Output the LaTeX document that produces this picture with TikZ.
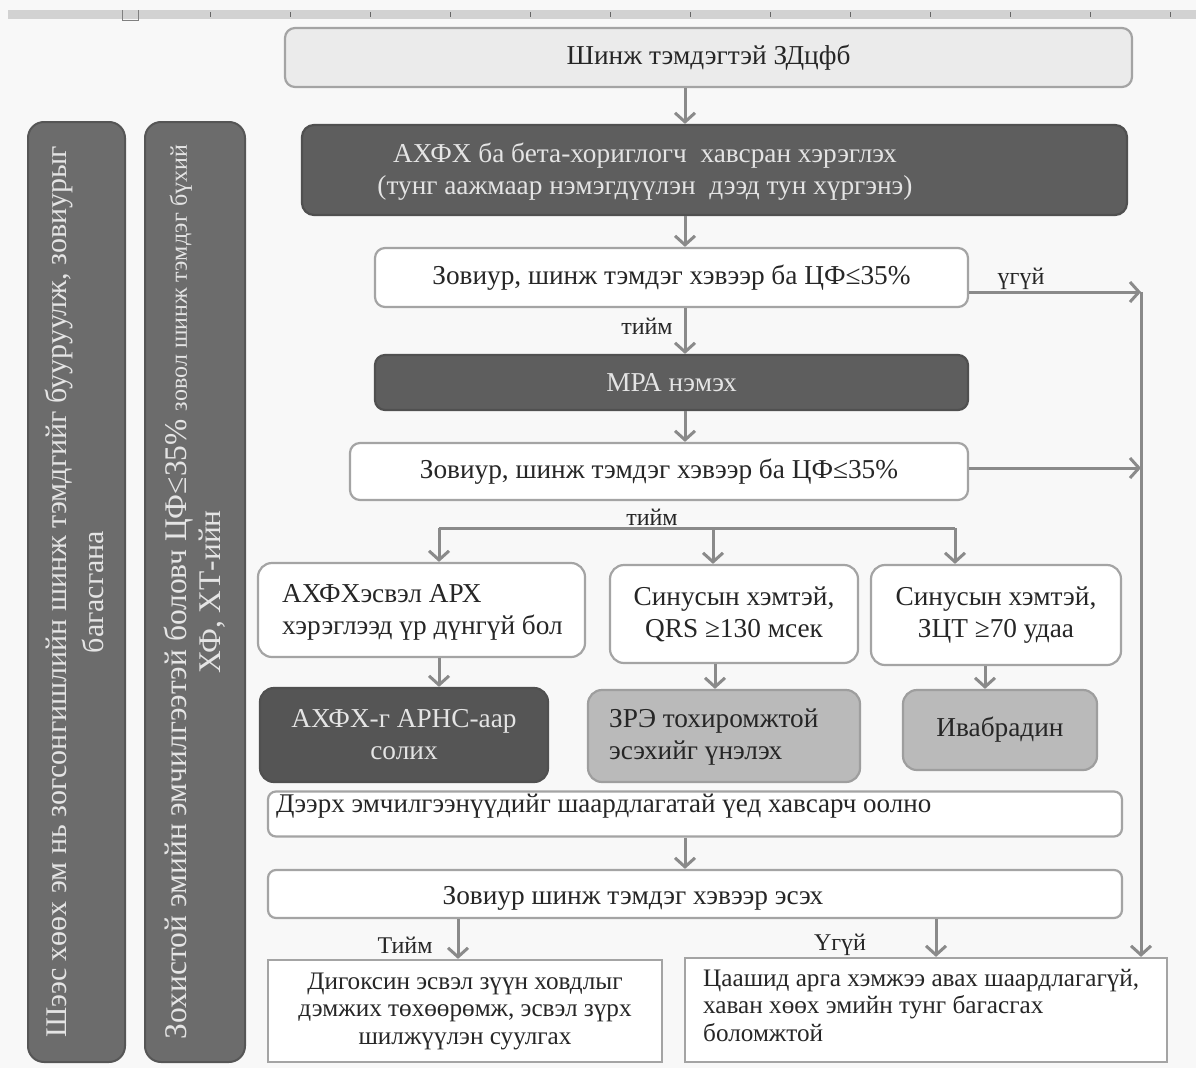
\documentclass[tikz,border=0pt]{standalone}
\usepackage{fontspec}
\setmainfont{Liberation Serif}
\usetikzlibrary{arrows.meta}
\definecolor{bg}{HTML}{F8F8F8}
\definecolor{edge}{HTML}{A4A4A4}
\definecolor{arrowc}{HTML}{8A8A8A}
\definecolor{darkf}{HTML}{5E5E5E}
\definecolor{darkerf}{HTML}{555555}
\definecolor{midf}{HTML}{BABABA}
\definecolor{lightf}{HTML}{EBEBEB}
\definecolor{barf}{HTML}{6C6C6C}
\definecolor{txtd}{HTML}{262626}
\definecolor{txtl}{HTML}{E4E4E4}
\definecolor{rulerc}{HTML}{D2D2D2}
\tikzset{
  box/.style={draw=edge, line width=2.2pt, rounded corners=10pt, inner sep=0pt, text=txtd},
  wbox/.style={box, fill=white},
  dbox/.style={box, fill=darkf, draw=darkf!85!black, text=txtl},
  mbox/.style={box, fill=midf, draw=midf!85!black},
  sbox/.style={box, fill=white, rounded corners=0pt},
  barbox/.style={draw=barf!80!black, line width=2pt, fill=barf, rounded corners=16pt, inner sep=0pt, text=txtl},
  txt/.style={inner sep=0pt, text=txtd},
  arr/.style={draw=arrowc, line width=3pt, -{Straight Barb[length=9pt,width=20pt,line width=3pt]}},
  ln/.style={draw=arrowc, line width=3pt},
  f27/.style={font=\fontsize{27.3}{32}\selectfont},
  f24/.style={font=\fontsize{24}{28}\selectfont},
  f25/.style={font=\fontsize{25.2}{27.5}\selectfont},
}
\begin{document}
\begin{tikzpicture}[x=1pt,y=-1pt]
\fill[bg] (0,0) rectangle (1196,1068);
\useasboundingbox (0,0) rectangle (1196,1068);
% ruler
\fill[rulerc] (8,10) rectangle (1196,19);
\draw[gray, line width=1pt] (122,10) -- (122,20) -- (138,20) -- (138,10);
\foreach \k in {210,290,...,1180} \draw[gray!80!black, line width=1pt] (\k,12) -- (\k,17);
% side bars
\node[barbox, minimum width=97, minimum height=940] (bar1) at (76.5,592) {};
\node[txt, text=txtl, rotate=90, align=center, font=\fontsize{30}{37}\selectfont] (bar1t) at (74,592)
  {Шээс хөөх эм нь зогсонгишлийн шинж тэмдгийг бууруулж, зовиурыг\\ багасгана};
\node[barbox, minimum width=100, minimum height=940] (bar2) at (195,592) {};
\node[txt, text=txtl, rotate=90, align=center, font=\fontsize{31.5}{34}\selectfont] (bar2t) at (195,592)
  {Зохистой эмийн эмчилгээтэй боловч ЦФ≤35\% {\fontsize{24}{26}\selectfont зовол шинж тэмдэг бүхий}\\ ХФ, ХТ-ийн};
% main column
\node[box, fill=lightf, minimum width=847, minimum height=59, f27] (b1) at (708.5,57.5) {Шинж тэмдэгтэй ЗДцфб};
\node[dbox, minimum width=825, minimum height=90, rounded corners=12pt] (b2) at (714.5,170) {};
\node[txt, text=txtl, align=center, f27] (b2t) at (645,172)
  {АХФХ ба бета-хориглогч\ \ хавсран хэрэглэх\\(тунг аажмаар нэмэгдүүлэн\ \ дээд тун хүргэнэ)};
\node[wbox, minimum width=593, minimum height=59, f27] (d1) at (671.5,277.5) {Зовиур, шинж тэмдэг хэвээр ба ЦФ≤35\%};
\node[dbox, minimum width=593, minimum height=55, f27] (mra) at (671.5,382.5) {МРА нэмэх};
\node[wbox, minimum width=618, minimum height=57, f27] (d2) at (659,471.5) {Зовиур, шинж тэмдэг хэвээр ба ЦФ≤35\%};
\node[txt, f24] (yes1) at (647,326) {тийм};
\node[txt, f24] (no1) at (1021,279) {үгүй};
\node[txt, f24] (yes2) at (652,517) {тийм};
% three options
\node[wbox, minimum width=327, minimum height=94, rounded corners=14pt] (oa) at (421.5,610) {};
\node[txt, align=left, f27, anchor=west] (oat) at (282,612) {АХФХэсвэл АРХ\\хэрэглээд үр дүнгүй бол};
\node[wbox, minimum width=248, minimum height=98, rounded corners=14pt, align=center, f27] (ob) at (734,614) {Синусын хэмтэй,\\QRS ≥130 мсек};
\node[wbox, minimum width=250, minimum height=100, rounded corners=14pt, align=center, f27] (oc) at (996,615) {Синусын хэмтэй,\\ЗЦТ ≥70 удаа};
\node[dbox, fill=darkerf, minimum width=288, minimum height=94, rounded corners=14pt, align=center, f27] (od) at (404,735) {АХФХ-г АРНС-аар\\солих};
\node[mbox, minimum width=272, minimum height=92, rounded corners=14pt] (oe) at (724,736) {};
\node[txt, align=left, f27, anchor=west] (oet) at (609,737) {ЗРЭ тохиромжтой\\эсэхийг үнэлэх};
\node[mbox, minimum width=194, minimum height=80, rounded corners=14pt, f27] (of) at (1000,730) {Ивабрадин};
% combine
\node[wbox, minimum width=854, minimum height=45, rounded corners=8pt] (g) at (695,814) {};
\node[txt, font=\fontsize{27}{30}\selectfont, anchor=north west] (gt) at (276,794) {Дээрх эмчилгээнүүдийг шаардлагатай үед хавсарч оолно};
\node[wbox, minimum width=854, minimum height=48, rounded corners=8pt] (h) at (695,894) {};
\node[txt, f27] (ht) at (633,898) {Зовиур шинж тэмдэг хэвээр эсэх};
\node[txt, f24] (yes3) at (405,945) {Тийм};
\node[txt, f24] (no3) at (840,945) {Үгүй};
\node[sbox, minimum width=394, minimum height=102, align=center, f25] (fi) at (465,1011) {Дигоксин эсвэл зүүн ховдлыг\\дэмжих төхөөрөмж, эсвэл зүрх\\шилжүүлэн суулгах};
\node[sbox, minimum width=482, minimum height=104] (fj) at (926,1010) {};
\node[txt, align=left, anchor=north west, f25] (fjt) at (703,969) {Цаашид арга хэмжээ авах шаардлагагүй,\\хаван хөөх эмийн тунг багасгах\\боломжтой};
% helper x positions
\coordinate (xa) at (685,0);
\coordinate (xl) at (439,0);
\coordinate (xm) at (713,0);
\coordinate (xbe) at (715,0);
\coordinate (xcf) at (985,0);
\coordinate (xy) at (458,0);
\coordinate (xn) at (936,0);
\coordinate (r1) at (1141,292);
\coordinate (r2) at (1141,468);
\coordinate (bl) at (439,528);
\coordinate (br) at (955,528);
% arrows
\draw[arr] (b1.south -| xa) -- (b2.north -| xa);
\draw[arr] (b2.south -| xa) -- (d1.north -| xa);
\draw[arr] (d1.south -| xa) -- (mra.north -| xa);
\draw[arr] (mra.south -| xa) -- (d2.north -| xa);
\draw[ln] (bl) -- (br);
\draw[arr] (bl) -- (oa.north -| bl);
\draw[arr] (bl -| xm) -- (ob.north -| xm);
\draw[arr] (br) -- (oc.north -| br);
\draw[arr] (oa.south -| xl) -- (od.north -| xl);
\draw[arr] (ob.south -| xbe) -- (oe.north -| xbe);
\draw[arr] (oc.south -| xcf) -- (of.north -| xcf);
\draw[arr] (g.south -| xa) -- (h.north -| xa);
\draw[arr] (h.south -| xy) -- (fi.north -| xy);
\draw[arr] (h.south -| xn) -- (fj.north -| xn);
\draw[arr] (r1 -| d1.east) -- (r1);
\draw[arr] (r2 -| d2.east) -- (r2);
\draw[arr] (r1) -- (fj.north -| r1);
\end{tikzpicture}
\end{document}
